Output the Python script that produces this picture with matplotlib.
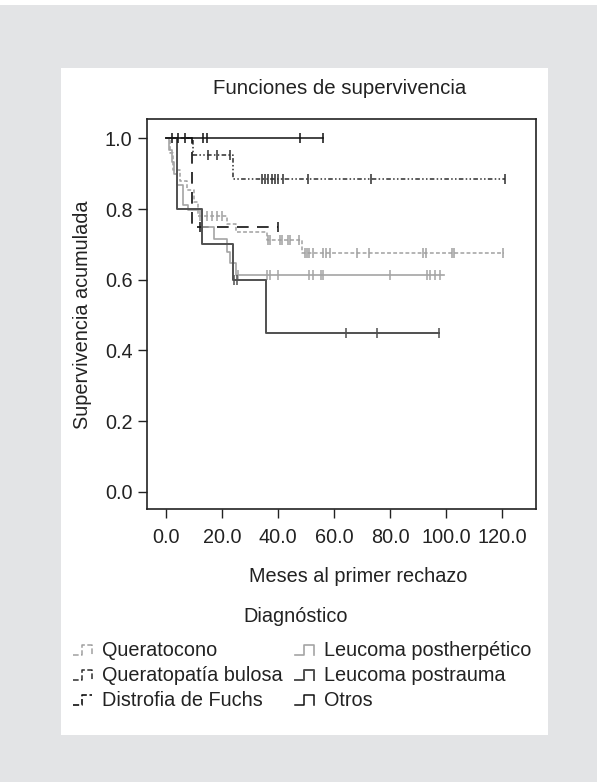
import matplotlib
matplotlib.use("Agg")
import matplotlib.pyplot as plt
from matplotlib.lines import Line2D
from matplotlib.patches import Rectangle
from matplotlib.legend_handler import HandlerBase

plt.rcParams['font.family'] = ['Liberation Sans', 'DejaVu Sans']

# survival steps (months, cumulative survival after the step)
queratocono_t = [1.5, 2.5, 5.0, 7.4, 10.1, 11.5, 21.9, 25.0, 36.0, 48.5]
queratocono_s = [0.96, 0.91, 0.88, 0.854, 0.82, 0.78, 0.759, 0.736, 0.712, 0.677]
queratocono_c = [12.1, 12.7, 14.5, 16.3, 18.1, 19.9, 36.5, 37.0, 40.7, 41.3, 43.7,
                 44.3, 47.3, 49.6, 50.2, 51.2, 52.6, 56.2, 57.1, 58.6, 68.1, 72.3,
                 91.9, 92.9, 102.0, 102.9, 120.2]
queratocono_end = 120.7

bulosa_t = [9.5, 24.0]
bulosa_s = [0.954, 0.884]
bulosa_c = [15.0, 18.2, 22.9, 34.2, 35.4, 36.4, 37.8, 38.9, 40.0, 41.8, 50.7, 73.2, 121.0]
bulosa_end = 121.0

fuchs_t = [9.2]
fuchs_s = [0.75]
fuchs_c = [12.1, 40.1]
fuchs_end = 40.1

postherp_t = [1.0, 2.0, 3.0, 3.8, 6.2, 8.0, 12.7, 17.3, 21.7, 22.9, 25.0]
postherp_s = [0.966, 0.933, 0.90, 0.868, 0.811, 0.797, 0.748, 0.714, 0.679, 0.647, 0.613]
postherp_c = [25.8, 36.0, 37.1, 40.1, 51.2, 52.4, 55.2, 56.2, 80.0, 93.1, 94.3, 96.1, 97.9]
postherp_end = 99.4

postrauma_t = [4.0, 13.0, 23.8, 35.8]
postrauma_s = [0.80, 0.70, 0.60, 0.45]
postrauma_c = [24.3, 25.2, 64.3, 75.2, 97.4]
postrauma_end = 97.4

otros_t = []
otros_s = []
otros_c = [2.1, 4.3, 6.8, 13.2, 14.6, 47.9, 56.1]
otros_end = 56.1

labels = ["Queratocono", "Queratopatía bulosa", "Distrofia de Fuchs",
          "Leucoma postherpético", "Leucoma postrauma", "Otros"]

series = [
    (queratocono_t, queratocono_s, queratocono_c, queratocono_end),
    (bulosa_t, bulosa_s, bulosa_c, bulosa_end),
    (fuchs_t, fuchs_s, fuchs_c, fuchs_end),
    (postherp_t, postherp_s, postherp_c, postherp_end),
    (postrauma_t, postrauma_s, postrauma_c, postrauma_end),
    (otros_t, otros_s, otros_c, otros_end),
]

styles = [
    dict(color="#a0a0a0", ls=(0, (2.5, 1.5)), lw=1.1),
    dict(color="#2e2e2e", ls=(0, (3, 1.5, 1, 1.5, 1, 1.5)), lw=1.1),
    dict(color="#111111", ls=(0, (7, 5)), lw=1.2),
    dict(color="#a4a4a4", ls="-", lw=1.2),
    dict(color="#505050", ls="-", lw=1.4),
    dict(color="#111111", ls="-", lw=1.1),
]

TEXT = "#222222"
FS = 14.3


def surv_at(t, times, vals):
    s = 1.0
    for ti, vi in zip(times, vals):
        if ti <= t:
            s = vi
    return s


class StepHandler(HandlerBase):
    def create_artists(self, legend, orig_handle, xdescent, ydescent,
                       width, height, fontsize, trans):
        x0, y0 = -xdescent, -ydescent
        lo, hi = y0 + 0.05 * height, y0 + 0.8 * height
        xm = x0 + 0.45 * width
        xs = [x0, xm, xm, x0 + 0.95 * width]
        ys = [lo, lo, hi, hi]
        if orig_handle.get_label() != "Distrofia de Fuchs":
            xs.append(x0 + 0.95 * width)
            ys.append(lo)
        ln = Line2D(xs, ys, color=orig_handle.get_color(),
                    linestyle=orig_handle.get_linestyle(),
                    linewidth=orig_handle.get_linewidth(), transform=trans)
        return [ln]


fig = plt.figure(figsize=(5.97, 7.82), dpi=100)
fig.patch.set_facecolor("#e3e4e6")
fig.add_artist(Rectangle((0, 1 - 5 / 782), 1, 5 / 782, transform=fig.transFigure,
                         facecolor="white", edgecolor="none", zorder=0))
fig.add_artist(Rectangle((61 / 597, 1 - 735 / 782), (548 - 61) / 597, (735 - 68) / 782,
                         transform=fig.transFigure, facecolor="white",
                         edgecolor="none", zorder=0))

ax = fig.add_axes([147 / 597, 1 - 509 / 782, (536 - 147) / 597, (509 - 119) / 782])

handles = []
for (times, vals, cens, end), st, lab in zip(series, styles, labels):
    xs = [0.0] + list(times) + [end]
    ys = [1.0] + list(vals) + [vals[-1] if vals else 1.0]
    ln, = ax.step(xs, ys, where="post", color=st["color"], linestyle=st["ls"],
                  linewidth=st["lw"], label=lab)
    cy = [surv_at(c, times, vals) for c in cens]
    ax.plot(cens, cy, linestyle="none", marker="|", markersize=7,
            markeredgewidth=1.1, color=st["color"])
    handles.append(ln)

ax.set_xlim(-6.8, 132.1)
ax.set_ylim(-0.049, 1.055)
ax.set_xticks([0, 20, 40, 60, 80, 100, 120])
ax.set_xticklabels(["0.0", "20.0", "40.0", "60.0", "80.0", "100.0", "120.0"])
ax.set_yticks([0.0, 0.2, 0.4, 0.6, 0.8, 1.0])
ax.set_yticklabels(["0.0", "0.2", "0.4", "0.6", "0.8", "1.0"])
ax.tick_params(axis="both", direction="out", length=6.5, width=1.0,
               labelsize=FS, colors=TEXT)
ax.tick_params(axis="x", pad=7.5)
ax.tick_params(axis="y", pad=4)
for sp in ax.spines.values():
    sp.set_linewidth(1.2)
    sp.set_color(TEXT)

fig.text(340 / 597, 1 - 88 / 782, "Funciones de supervivencia", ha="center",
         va="center", fontsize=FS + 0.4, color=TEXT)
fig.text(83 / 597, 1 - 315 / 782, "Supervivencia acumulada", ha="center",
         va="center", rotation=90, fontsize=FS, color=TEXT)
fig.text(358 / 597, 1 - 577 / 782, "Meses al primer rechazo", ha="center",
         va="center", fontsize=FS, color=TEXT)
fig.text(296 / 597, 1 - 616 / 782, "Diagnóstico", ha="center",
         va="center", fontsize=FS, color=TEXT)

leg = fig.legend(handles, labels, ncol=2, loc="upper left",
                 bbox_to_anchor=(73 / 597, 1 - 641 / 782), frameon=False,
                 fontsize=FS, borderpad=0, borderaxespad=0,
                 handlelength=1.0, handleheight=0.7, handletextpad=0.45,
                 columnspacing=0.65, labelspacing=0.3,
                 handler_map={Line2D: StepHandler()})
for t in leg.get_texts():
    t.set_color(TEXT)

fig.savefig("out.png", dpi=100, facecolor=fig.get_facecolor())
